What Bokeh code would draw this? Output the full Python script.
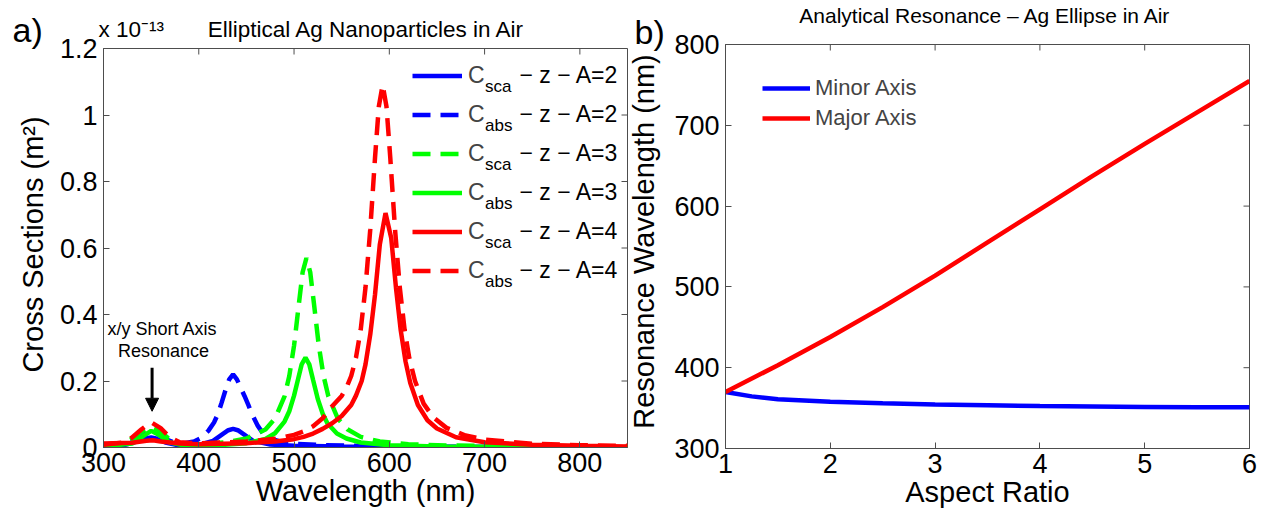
import math
from bokeh.plotting import figure
from bokeh.models import (Plot, Range1d, FixedTicker, Label, Arrow, NormalHead,
                          Legend, LegendItem)
from bokeh.layouts import row, column
from bokeh.core.properties import value
from bokeh.embed import file_html
from bokeh.resources import INLINE

FONT = "Liberation Sans"
AXIS_GREY = "#4d4d4d"
BLUE, GREEN, RED = "#0000ff", "#00ff00", "#ff0000"
LW = 4.5
DASH = "18 10"
TICK_FONT = "27px"
LABEL_FONT = "29px"
HAS_FRAME_ALIGN = "frame_align" in Plot.properties()

# ---------------- panel a: cross sections (units of 1e-13 m^2) ----------------
wl_sca_a2 = [300, 320, 335, 345, 350, 355, 365, 380, 400, 415, 425, 431, 436,
             441, 447, 457, 475, 500, 550, 650, 850]
c_sca_a2 = [0.003, 0.006, 0.018, 0.028, 0.030, 0.027, 0.015, 0.006, 0.008, 0.020,
            0.040, 0.052, 0.056, 0.052, 0.040, 0.020, 0.009, 0.005, 0.003, 0.002, 0.001]

wl_abs_a2 = [300, 320, 335, 343, 350, 357, 365, 375, 385, 395, 402, 410, 416, 420,
             424, 428, 432, 436, 440, 444, 448, 452, 456, 462, 468, 475, 485, 500,
             530, 580, 650, 850]
c_abs_a2 = [0.004, 0.008, 0.025, 0.040, 0.045, 0.040, 0.025, 0.014, 0.013, 0.018,
            0.028, 0.050, 0.075, 0.100, 0.135, 0.172, 0.205, 0.220, 0.205, 0.180,
            0.155, 0.128, 0.100, 0.065, 0.040, 0.027, 0.018, 0.011, 0.007, 0.004,
            0.002, 0.001]

wl_sca_a3 = [300, 320, 332, 341, 350, 359, 368, 380, 400, 430, 450, 470, 480, 490,
             495, 500, 505, 509, 513, 517, 521, 526, 531, 536, 546, 556, 570, 590,
             620, 660, 720, 850]
c_sca_a3 = [0.004, 0.010, 0.030, 0.050, 0.062, 0.050, 0.028, 0.011, 0.009, 0.016,
            0.027, 0.054, 0.087, 0.154, 0.215, 0.306, 0.430, 0.527, 0.570, 0.527,
            0.430, 0.306, 0.215, 0.154, 0.087, 0.055, 0.032, 0.018, 0.010, 0.006,
            0.004, 0.002]

wl_abs_a3 = [300, 330, 342, 350, 358, 370, 385, 420, 450, 470, 480, 490, 495, 500,
             504, 508, 512, 516, 520, 525, 530, 535, 545, 555, 570, 600, 650, 750, 850]
c_abs_a3 = [0.003, 0.012, 0.035, 0.050, 0.038, 0.015, 0.006, 0.007, 0.013, 0.026,
            0.043, 0.078, 0.109, 0.156, 0.203, 0.250, 0.270, 0.250, 0.203, 0.145,
            0.102, 0.073, 0.042, 0.027, 0.015, 0.007, 0.003, 0.002, 0.001]

wl_sca_a4 = [300, 330, 345, 352, 360, 380, 400, 450, 480, 500, 510, 520, 530, 540,
             550, 560, 565, 571, 575, 580, 585, 590, 596, 602, 607, 612, 617, 622,
             630, 640, 650, 670, 700, 750, 800, 850]
c_sca_a4 = [0.012, 0.014, 0.020, 0.022, 0.018, 0.012, 0.010, 0.013, 0.018, 0.025,
            0.032, 0.042, 0.056, 0.073, 0.095, 0.128, 0.156, 0.200, 0.250, 0.340,
            0.460, 0.610, 0.705, 0.630, 0.480, 0.352, 0.259, 0.194, 0.128, 0.082,
            0.057, 0.031, 0.016, 0.008, 0.005, 0.003]

wl_abs_a4 = [300, 320, 330, 340, 350, 360, 370, 380, 400, 450, 480, 500, 510, 520,
             530, 540, 550, 555, 560, 565, 570, 575, 580, 585, 589, 593, 597, 601,
             606, 611, 616, 621, 627, 636, 646, 660, 680, 700, 750, 800, 850]
c_abs_a4 = [0.008, 0.015, 0.030, 0.055, 0.076, 0.058, 0.030, 0.016, 0.012, 0.018,
            0.026, 0.038, 0.048, 0.064, 0.088, 0.124, 0.155, 0.180, 0.215, 0.270,
            0.355, 0.481, 0.656, 0.872, 1.026, 1.090, 1.026, 0.872, 0.656, 0.481,
            0.355, 0.268, 0.200, 0.132, 0.091, 0.059, 0.036, 0.024, 0.011, 0.007,
            0.005]

a_xticks = [300, 400, 500, 600, 700, 800]
a_yticks = [0, 0.2, 0.4, 0.6, 0.8, 1.0, 1.2]
a_ylabels = ["0", "0.2", "0.4", "0.6", "0.8", "1", "1.2"]
a_series = [
    ("sca", "A=2", wl_sca_a2, c_sca_a2, BLUE, "solid"),
    ("abs", "A=2", wl_abs_a2, c_abs_a2, BLUE, DASH),
    ("sca", "A=3", wl_sca_a3, c_sca_a3, GREEN, DASH),
    ("abs", "A=3", wl_abs_a3, c_abs_a3, GREEN, "solid"),
    ("sca", "A=4", wl_sca_a4, c_sca_a4, RED, "solid"),
    ("abs", "A=4", wl_abs_a4, c_abs_a4, RED, DASH),
]

# ---------------- panel b: analytical resonance ----------------
ar_minor = [1, 1.25, 1.5, 2, 2.5, 3, 3.5, 4, 4.5, 5, 5.5, 6]
res_minor = [370, 364.5, 361, 358, 356, 354.5, 353.5, 352.5, 352, 351.5, 351, 351]
ar_major = [1, 1.5, 2, 2.5, 3, 3.5, 4, 4.5, 5, 5.5, 6]
res_major = [370, 403, 438, 475, 514, 555, 596, 637, 677, 716, 755]
b_xticks = [1, 2, 3, 4, 5, 6]
b_yticks = [300, 400, 500, 600, 700, 800]

TICK_LEN = 6    # px, drawn inward
MID = 0.35      # em offset between the baseline and the middle of a text box


def new_fig(**kw):
    p = figure(output_backend="svg", toolbar_location=None, **kw)
    if HAS_FRAME_ALIGN:
        p.frame_align = False
    return p


def text(p, s, x, y, size, align="left", angle=0.0, height=None):
    """Text whose baseline passes through pixel (x, y), measured from the
    top-left of a figure's frame."""
    h = p.height if height is None else height
    dx = MID * size * math.sin(angle)
    dy = MID * size * math.cos(angle)
    p.add_layout(Label(x=x - dx, y=h - (y - dy), x_units="screen",
                       y_units="screen", text=s, text_font=FONT,
                       text_font_size=f"{size}px", text_align=align,
                       text_baseline="middle", angle=angle,
                       text_color="black"))


def blank(width, height):
    p = new_fig(width=width, height=height, x_range=Range1d(0, 1),
                y_range=Range1d(0, 1), min_border=0, title=None,
                x_axis_location=None, y_axis_location=None)
    p.outline_line_color = None
    p.xgrid.visible = False
    p.ygrid.visible = False
    return p


def boxed_axes(p, xticks, yticks, xr, yr, fw, fh, ylabels=None):
    p.xgrid.visible = False
    p.ygrid.visible = False
    p.outline_line_color = AXIS_GREY
    p.outline_line_width = 1
    for ax in (p.xaxis[0], p.yaxis[0]):
        ax.axis_line_color = AXIS_GREY
        ax.major_tick_line_color = AXIS_GREY
        ax.major_tick_in = TICK_LEN
        ax.major_tick_out = 0
        ax.minor_tick_line_color = None
        ax.major_label_text_font = FONT
        ax.major_label_text_font_size = TICK_FONT
        ax.major_label_text_color = "black"
        ax.axis_label_text_font = FONT
        ax.axis_label_text_font_size = LABEL_FONT
        ax.axis_label_text_font_style = "normal"
        ax.axis_label_text_color = "black"
    p.xaxis[0].ticker = FixedTicker(ticks=xticks)
    p.yaxis[0].ticker = FixedTicker(ticks=yticks)
    p.xaxis[0].major_label_standoff = 5
    p.yaxis[0].major_label_standoff = 6
    p.xaxis[0].axis_label_standoff = 0
    if ylabels is not None:
        p.yaxis[0].major_label_overrides = dict(zip(yticks, ylabels))
    # inward tick marks mirrored on the top and right sides of the box
    dy = TICK_LEN * (yr[1] - yr[0]) / fh
    dx = TICK_LEN * (xr[1] - xr[0]) / fw
    p.segment(x0=xticks, x1=xticks, y0=[yr[1]] * len(xticks),
              y1=[yr[1] - dy] * len(xticks), line_color=AXIS_GREY, line_width=1)
    p.segment(x0=[xr[1]] * len(yticks), x1=[xr[1] - dx] * len(yticks),
              y0=yticks, y1=yticks, line_color=AXIS_GREY, line_width=1)


# ---------- layout geometry (canvas px) ----------
W, H = 1272, 519
SA_W = 56                 # strip left of panel a (panel label, y title)
A_X0 = SA_W
A_FL, A_FR, A_FT, A_FB = 103, 627, 48, 447
SB_X0 = 628               # strip left of panel b
B_X0 = 670
B_FL, B_FR, B_FT, B_FB = 725, 1249, 44, 448
HB = 28                   # header strip above panel b

# ================= panel a =================
xr_a, yr_a = (300, 850), (0, 1.2)
pa = new_fig(width=SB_X0 - A_X0, height=H, x_range=Range1d(*xr_a),
             y_range=Range1d(*yr_a), min_border_left=A_FL - A_X0,
             min_border_right=SB_X0 - A_FR, min_border_top=A_FT,
             min_border_bottom=H - A_FB)
pa.xaxis.axis_label = "Wavelength (nm)"
boxed_axes(pa, a_xticks, a_yticks, xr_a, yr_a, A_FR - A_FL, A_FB - A_FT, a_ylabels)
NBSP = "\u00a0"
pa.title.text = "x 10\u207b\u00b9\u00b3" + NBSP * 7 + "Elliptical Ag Nanoparticles in Air"
pa.title.align = "left"
pa.title.offset = -5
pa.title.vertical_align = "top"
pa.title.text_font = FONT
pa.title.text_font_size = "22.5px"
pa.title.text_font_style = "normal"
pa.title.text_color = "black"
pa.title.standoff = 9

renderers_a = []
for kind, ratio, xs, ys, col, dash in a_series:
    renderers_a.append(pa.line(xs, ys, line_color=col, line_width=LW,
                               line_dash=dash))

ROW0, PITCH, GLYPH_H, SPACING = 75.5, 39, 29, 10
leg_a = Legend(items=[LegendItem(label=value("C"), renderers=[r])
                      for r in renderers_a],
               location=(412 - A_FL, A_FB - (ROW0 - GLYPH_H / 2) - (6 * GLYPH_H + 5 * SPACING)),
               glyph_width=50, glyph_height=GLYPH_H, label_height=20,
               label_standoff=6, spacing=SPACING, padding=0, margin=0,
               border_line_color=None, background_fill_alpha=0,
               label_text_font=FONT, label_text_font_size="23px")
pa.add_layout(leg_a)

# subscripts and the rest of each legend entry
fh_a = A_FB - A_FT
for i, (kind, ratio, *_rest) in enumerate(a_series):
    cy = ROW0 + PITCH * i - A_FT
    text(pa, kind, 484.5 - A_FL, cy + 16.5, 17, height=fh_a)
    text(pa, "− z − " + ratio, 519 - A_FL, cy + 7.5, 23, height=fh_a)

# short-axis annotation
text(pa, "x/y Short Axis", 162 - A_FL, 335 - A_FT, 18, align="center", height=fh_a)
text(pa, "Resonance", 163 - A_FL, 357 - A_FT, 18, align="center", height=fh_a)
pa.add_layout(Arrow(end=NormalHead(size=13, line_color="black",
                                   fill_color="black", line_width=1),
                    x_start=351, y_start=0.24, x_end=351, y_end=0.109,
                    line_color="black", line_width=3))

sa = blank(SA_W, H)
text(sa, "a)", 12, 41, 34)
text(sa, "Cross Sections (m²)", 43, 244, 29, align="center", angle=math.pi / 2)

# ================= panel b =================
xr_b, yr_b = (1, 6), (300, 800)
pb = new_fig(width=W - B_X0, height=H - HB, x_range=Range1d(*xr_b),
             y_range=Range1d(*yr_b), min_border_left=B_FL - B_X0,
             min_border_right=W - B_FR, min_border_top=B_FT - HB,
             min_border_bottom=H - B_FB)
pb.xaxis.axis_label = "Aspect Ratio"
boxed_axes(pb, b_xticks, b_yticks, xr_b, yr_b, B_FR - B_FL, B_FB - B_FT)

r_min = pb.line(ar_minor, res_minor, line_color=BLUE, line_width=LW)
r_maj = pb.line(ar_major, res_major, line_color=RED, line_width=LW)
leg_b = Legend(items=[LegendItem(label=value("Minor Axis"), renderers=[r_min]),
                      LegendItem(label=value("Major Axis"), renderers=[r_maj])],
               location=(762 - B_FL, B_FB - 75 - 56), glyph_width=48,
               glyph_height=26, label_height=20, label_standoff=5, spacing=4,
               padding=0, margin=0, border_line_color=None,
               background_fill_alpha=0, label_text_font=FONT,
               label_text_font_size="22px")
pb.add_layout(leg_b)

hb = blank(W - B_X0, HB)
text(hb, "Analytical Resonance – Ag Ellipse in Air", 985 - B_X0, 22, 21,
     align="center")

sb = blank(B_X0 - SB_X0, H)
text(sb, "b)", 6, 43, 34)
text(sb, "Resonance Wavelength (nm)", 654 - SB_X0, 241, 29, align="center",
     angle=math.pi / 2)

layout = row(sa, pa, sb, column(hb, pb))
open("out.html", "w").write(file_html(layout, INLINE))
